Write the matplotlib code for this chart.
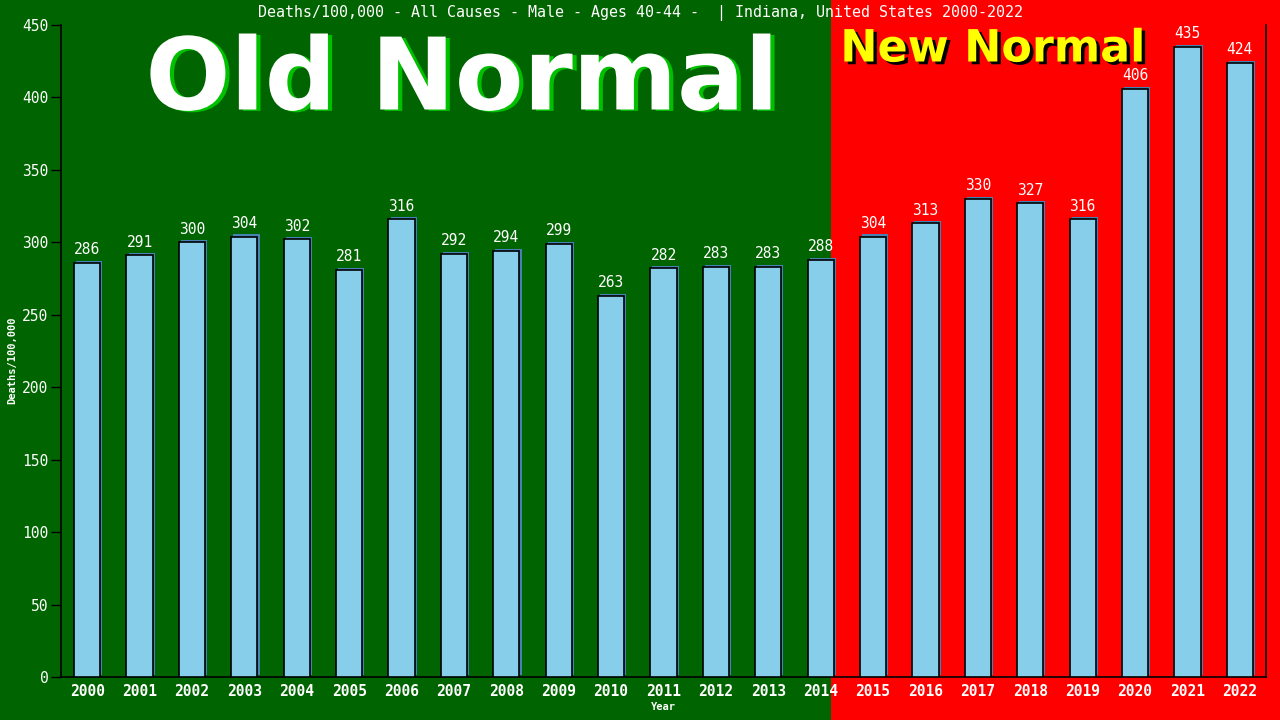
import matplotlib
matplotlib.use("Agg")
import matplotlib.pyplot as plt
import matplotlib.patheffects as pe
from matplotlib.patches import Rectangle
from matplotlib.transforms import blended_transform_factory

years = [str(y) for y in range(2000, 2023)]
deaths = [286, 291, 300, 304, 302, 281, 316, 292, 294, 299, 263, 282, 283, 283,
          288, 304, 313, 330, 327, 316, 406, 435, 424]
title = "Deaths/100,000 - All Causes - Male - Ages 40-44 -  | Indiana, United States 2000-2022"
yticks = [0, 50, 100, 150, 200, 250, 300, 350, 400, 450]

GREEN = "#006400"
RED = "#ff0000"
BAR = "#87ceeb"
MONO = "DejaVu Sans Mono"

fig = plt.figure(figsize=(12.8, 7.2), dpi=100)
fig.patch.set_facecolor(GREEN)
ax = fig.add_axes([61/1280, 43/720, 1205/1280, 652/720])
ax.set_facecolor("none")
ax.set_zorder(2)

x = list(range(len(years)))
ax.set_xlim(-0.5, len(years) - 0.5)
ax.set_ylim(0, 450)

# red "new normal" background from between 2014 and 2015 to the right edge
tr = blended_transform_factory(ax.transData, fig.transFigure)
fig.patches.append(Rectangle((14.2, 0), 20, 1, transform=tr, facecolor=RED,
                             edgecolor="none", zorder=-5))

bars = ax.bar(x, deaths, width=0.5, color=BAR, edgecolor="black", linewidth=1.2, zorder=3)
for b in bars:
    b.set_path_effects([pe.SimplePatchShadow(offset=(1.5, 1.5), shadow_rgbFace="#4682b4", alpha=1.0),
                        pe.Normal()])

for xi, v in zip(x, deaths):
    ax.annotate(str(v), (xi, v), xytext=(0, 4), textcoords="offset points",
                ha="center", va="bottom", color="white", fontsize=10.5,
                family=MONO, zorder=5)

ax.set_xticks(x)
ax.set_xticklabels(years, color="white", fontsize=10.5, family=MONO, fontweight="bold")
ax.tick_params(axis="x", length=0, pad=5)
ax.set_yticks(yticks)
ax.set_yticklabels([str(t) for t in yticks], color="white", fontsize=10.5, family=MONO)
ax.tick_params(axis="y", length=7, width=1, color="black", direction="out", pad=2)

for s in ["left", "right", "bottom"]:
    ax.spines[s].set_color("black")
    ax.spines[s].set_linewidth(1.2)
ax.spines["top"].set_visible(False)

ax.set_xlabel("Year", color="white", fontsize=7.5, family=MONO, fontweight="bold", labelpad=2)
fig.text(12/1280, 0.5, "Deaths/100,000", rotation=90, color="white", fontsize=7.5,
         family=MONO, fontweight="bold", ha="center", va="center")

fig.text(640/1280, 1 - 13/720, title, color="white", fontsize=10.8, family=MONO,
         ha="center", va="center")

fig.text(462/1280, 1 - 82/720, "Old Normal", color="white", fontsize=72,
         family="DejaVu Sans", fontweight="bold", ha="center", va="center",
         path_effects=[pe.SimplePatchShadow(offset=(3, -1), shadow_rgbFace="#00c000", alpha=1.0),
                       pe.Normal()], zorder=1)

fig.text(993/1280, 1 - 49/720, "New Normal", color="#ffff00", fontsize=32,
         family="DejaVu Sans", fontweight="bold", ha="center", va="center", zorder=1,
         path_effects=[pe.SimplePatchShadow(offset=(2.5, -2), shadow_rgbFace="black", alpha=1.0),
                       pe.Normal()])

fig.savefig("out.png", dpi=100, facecolor=fig.get_facecolor())
